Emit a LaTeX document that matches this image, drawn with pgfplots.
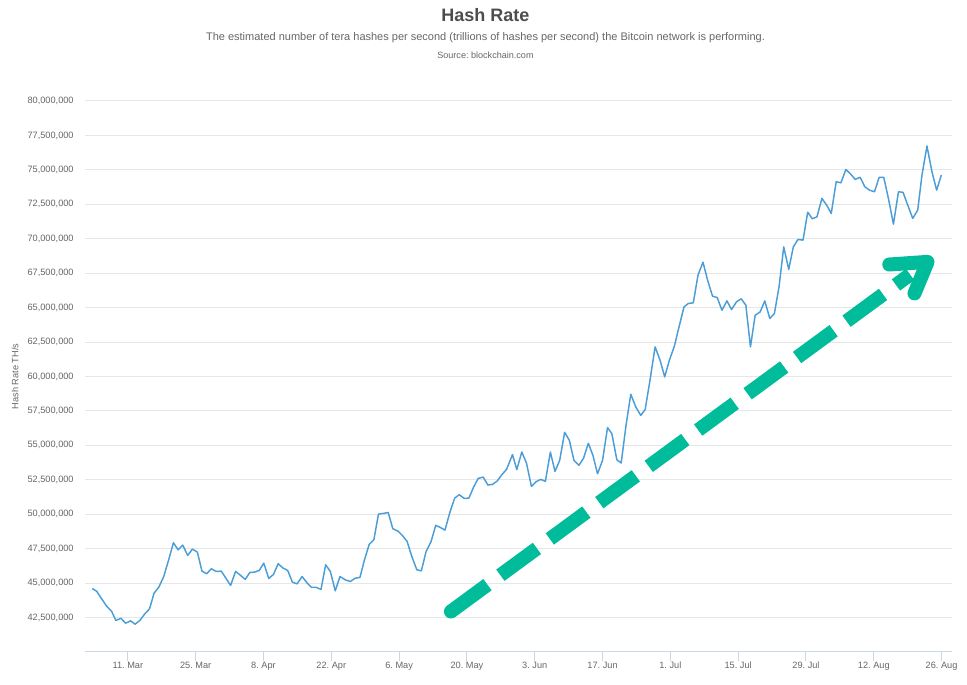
\documentclass[border=0pt]{standalone}
\usepackage{fontspec}
\setmainfont{Liberation Sans}
\usepackage{pgfplots}
\pgfplotsset{compat=1.18}
\usepackage{pgfplotstable}

\definecolor{hcline}{HTML}{4A9DD6}
\definecolor{hcgreen}{HTML}{00BC9A}
\definecolor{hcgrid}{HTML}{E6E6E6}
\definecolor{hcaxis}{HTML}{CCD6EB}
\definecolor{hclabel}{HTML}{666666}
\definecolor{hctitle}{HTML}{4D4D4D}

% day 0 = 1 Mar, rate in millions of TH/s
\pgfplotstableread{
day rate
2.65 44.61
3.56 44.41
4.59 43.86
5.61 43.33
6.64 42.96
7.53 42.29
8.56 42.45
9.53 42.09
10.56 42.26
11.50 42.02
12.47 42.29
13.50 42.77
14.47 43.13
15.41 44.27
16.38 44.70
17.41 45.48
18.38 46.64
19.41 47.93
20.36 47.42
21.32 47.76
22.35 47.01
23.32 47.47
24.35 47.25
25.30 45.87
26.27 45.68
27.23 46.04
28.26 45.85
29.29 45.87
30.18 45.39
31.21 44.83
32.24 45.85
33.27 45.56
34.23 45.27
35.18 45.77
36.15 45.80
37.12 45.92
38.06 46.45
39.09 45.34
40.06 45.63
41.03 46.41
41.97 46.11
43.00 45.92
43.97 45.07
44.94 44.95
45.97 45.48
46.92 45.05
47.88 44.70
48.85 44.70
49.88 44.54
50.83 46.33
51.80 45.85
52.82 44.44
53.79 45.48
54.88 45.24
55.91 45.12
56.94 45.36
57.91 45.41
58.86 46.70
59.82 47.81
60.79 48.15
61.74 50.01
62.77 50.06
63.74 50.13
64.70 48.95
65.73 48.78
66.68 48.46
67.65 48.03
68.62 46.94
69.65 45.97
70.59 45.89
71.56 47.28
72.59 48.00
73.56 49.19
74.51 49.04
75.47 48.85
76.50 50.16
77.47 51.17
78.42 51.42
79.45 51.15
80.41 51.17
81.38 51.97
82.33 52.60
83.36 52.70
84.33 52.12
85.29 52.17
86.24 52.41
87.21 52.87
88.18 53.26
89.41 54.33
90.30 53.24
91.33 54.52
92.29 53.72
93.32 52.02
94.27 52.36
95.24 52.53
96.20 52.39
97.23 54.52
98.18 53.11
99.15 53.91
100.18 55.95
101.15 55.36
102.10 53.91
103.13 53.55
104.09 54.08
105.06 55.15
106.01 54.28
106.97 52.94
108.00 53.91
109.03 56.29
109.92 55.85
110.95 53.96
111.85 53.72
112.88 56.53
113.83 58.71
114.86 57.79
115.89 57.18
116.80 57.60
117.82 59.78
118.85 62.15
119.88 61.18
120.83 59.97
121.80 61.18
122.83 62.20
123.79 63.60
124.82 65.05
125.71 65.30
126.74 65.35
127.71 67.36
128.74 68.30
129.68 67.00
130.71 65.83
131.68 65.73
132.65 64.81
133.68 65.49
134.63 64.86
135.66 65.42
136.62 65.64
137.59 65.18
138.54 62.15
139.51 64.45
140.54 64.69
141.50 65.49
142.53 64.21
143.48 64.57
144.44 66.51
145.41 69.41
146.44 67.77
147.39 69.41
148.36 69.95
149.39 69.90
150.36 71.93
151.30 71.45
152.27 71.59
153.30 72.93
154.27 72.44
155.22 71.84
156.24 74.14
157.21 74.06
158.24 75.03
159.21 74.70
160.16 74.31
161.19 74.46
162.15 73.77
163.12 73.53
164.15 73.41
165.10 74.46
166.06 74.46
167.09 72.81
168.06 71.06
169.09 73.41
170.04 73.37
171.01 72.44
172.04 71.48
173.07 72.08
173.95 74.62
174.98 76.73
176.01 74.86
176.98 73.53
177.94 74.62
}\hashdata

\begin{document}
\frenchspacing
\begin{tikzpicture}
\path[use as bounding box] (0,0) rectangle (725.25pt,513.75pt);

\node[text=hctitle, font=\fontsize{13.5}{16}\selectfont\bfseries] at (364.1pt,502.5pt) {Hash Rate};
\node[text=hclabel, font=\fontsize{8.25}{10}\selectfont] at (364.1pt,485.25pt)
  {The estimated number of tera hashes per second (trillions of hashes per second) the Bitcoin network is performing.};
\node[text=hclabel, font=\fontsize{6.8}{8}\selectfont] at (364.1pt,472.5pt) {Source: blockchain.com};
\node[text=hclabel, font=\fontsize{6.9}{8}\selectfont, rotate=90] at (11.25pt,231.4pt) {Hash Rate TH/s};

\begin{axis}[
  scale only axis,
  width=650.25pt, height=413.25pt,
  at={(63.75pt,24.75pt)}, anchor=south west,
  xmin=1.15, xmax=180.15,
  ymin=40, ymax=80,
  axis x line*=bottom,
  axis y line*=left,
  x axis line style={draw=hcaxis, line width=0.75pt, -},
  y axis line style={draw=none},
  xtick={10,24,38,52,66,80,94,108,122,136,150,164,178},
  xticklabels={11. Mar,25. Mar,8. Apr,22. Apr,6. May,20. May,3. Jun,17. Jun,1. Jul,15. Jul,29. Jul,12. Aug,26. Aug},
  ytick={42.5,45,47.5,50,52.5,55,57.5,60,62.5,65,67.5,70,72.5,75,77.5,80},
  yticklabels={{42,500,000},{45,000,000},{47,500,000},{50,000,000},{52,500,000},{55,000,000},{57,500,000},{60,000,000},{62,500,000},{65,000,000},{67,500,000},{70,000,000},{72,500,000},{75,000,000},{77,500,000},{80,000,000}},
  tick align=outside,
  major tick length=7pt,
  xtick style={draw=hcaxis, line width=0.75pt},
  ytick style={draw=none},
  ymajorgrids,
  grid style={draw=hcgrid, line width=0.75pt},
  tick label style={text=hclabel, font=\fontsize{6.9}{8}\selectfont},
  yticklabel style={anchor=east, xshift=2pt},
  xticklabel style={anchor=north, yshift=3pt},
  clip=false,
]
\addplot[color=hcline, line width=1.1pt, mark=none, line join=round] table[x=day, y=rate] {\hashdata};

% green trend arrow annotation
\draw[hcgreen, line width=10.5pt, dash pattern=on 34pt off 12pt] (axis cs:76.7,42.94) -- (axis cs:171.5,67.4);
\fill[hcgreen] (axis cs:76.7,42.94) circle (5.25pt);
\draw[hcgreen, line width=10.5pt, line cap=round, line join=round]
  (axis cs:167.2,68.13) -- (axis cs:175.1,68.32) -- (axis cs:172.4,66.03);
\end{axis}
\end{tikzpicture}
\end{document}
